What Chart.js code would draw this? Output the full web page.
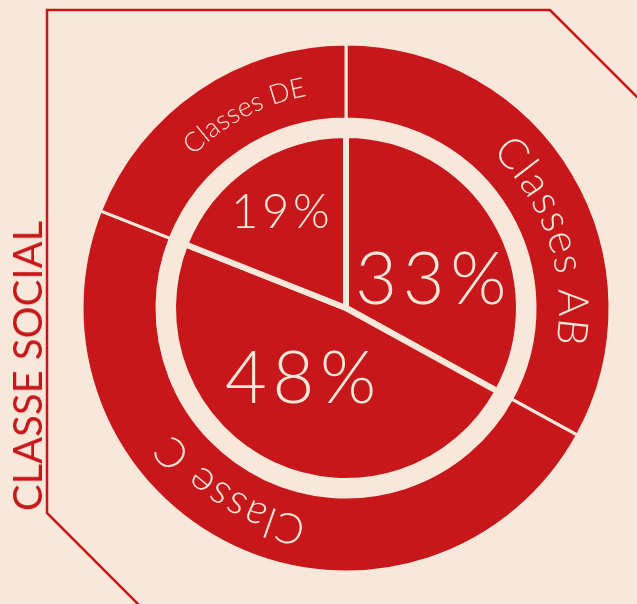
<!DOCTYPE html>
<html lang="pt">
<head>
<meta charset="UTF-8">
<title>Classe social</title>
<script src="https://cdn.jsdelivr.net/npm/chart.js"></script>
<style>
    body {
        margin: 0;
        background-color: #f9e8da;
    }
    .wrap {
        position: relative;
        width: 637px;
        height: 604px;
        overflow: hidden;
    }
    .wrap canvas, .wrap svg {
        position: absolute;
        left: 0;
        top: 0;
    }
    .title {
        position: absolute;
        left: 27px;
        top: 366px;
        transform: translate(-50%, -50%) rotate(-90deg);
        font-family: 'Lato', sans-serif;
        font-size: 40px;
        line-height: 1;
        color: #c8171b;
        white-space: nowrap;
    }
</style>
</head>
<body>
<div class="wrap">
    <svg width="637" height="604">
        <polyline points="640,100 550,10 47,10 47,513 140,606" fill="none" stroke="#c8171b" stroke-width="2.5"/>
    </svg>
    <canvas id="ring" width="637" height="604"></canvas>
    <canvas id="pie" width="637" height="604"></canvas>
    <div class="title">CLASSE SOCIAL</div>
</div>
<script>
    const RED = '#c8171b';
    const CREAM = '#f9e8da';

    const classes = ['Classes AB', 'Classe C', 'Classes DE'];
    const shares = [33, 48, 19];
    const pctLabels = ['33%', '48%', '19%'];

    // text written along the outer ring, clockwise, tops outward
    const curvedLabels = {
        id: 'curvedLabels',
        afterDatasetsDraw(chart, args, opts) {
            const ctx = chart.ctx;
            chart.getDatasetMeta(0).data.forEach((arc, i) => {
                const st = opts.items[i];
                const p = arc.getProps(['x', 'y', 'startAngle', 'endAngle', 'innerRadius', 'outerRadius']);
                const mid = (p.startAngle + p.endAngle) / 2 + st.shift * Math.PI / 180;
                const r = (p.innerRadius + p.outerRadius) / 2 + st.dr;
                const chars = [...chart.data.labels[i]];
                ctx.save();
                ctx.font = '300 ' + st.size + 'px Lato, sans-serif';
                ctx.fillStyle = CREAM;
                ctx.textAlign = 'center';
                ctx.textBaseline = 'middle';
                const widths = chars.map(c => ctx.measureText(c).width);
                const natural = widths.reduce((a, b) => a + b, 0);
                const span = st.span * Math.PI / 180 * r;
                const gap = (span - natural) / (chars.length - 1);
                let pos = -span / 2;
                chars.forEach((c, k) => {
                    const a = mid + (pos + widths[k] / 2) / r;
                    ctx.save();
                    ctx.translate(p.x + r * Math.cos(a), p.y + r * Math.sin(a));
                    ctx.rotate(a + Math.PI / 2);
                    ctx.fillText(c, 0, 0);
                    ctx.restore();
                    pos += widths[k] + gap;
                });
                ctx.restore();
            });
        }
    };

    const pieLabels = {
        id: 'pieLabels',
        afterDatasetsDraw(chart, args, opts) {
            const ctx = chart.ctx;
            chart.getDatasetMeta(0).data.forEach((arc, i) => {
                const st = opts.items[i];
                const p = arc.getProps(['x', 'y', 'startAngle', 'endAngle']);
                const a = (p.startAngle + p.endAngle) / 2 + st.shift * Math.PI / 180;
                const ls = st.size * 0.08;
                ctx.save();
                ctx.font = '300 ' + st.size + 'px Lato, sans-serif';
                ctx.letterSpacing = ls + 'px';
                ctx.fillStyle = CREAM;
                ctx.textAlign = 'center';
                ctx.textBaseline = 'alphabetic';
                ctx.fillText(pctLabels[i], p.x + st.dist * Math.cos(a) + ls / 2, p.y + st.dist * Math.sin(a) + st.size * 0.36);
                ctx.restore();
            });
        }
    };

    new Chart(document.getElementById('ring'), {
        type: 'doughnut',
        data: {
            labels: classes,
            datasets: [{
                data: shares,
                backgroundColor: RED,
                borderColor: CREAM,
                borderWidth: 3
            }]
        },
        options: {
            responsive: false,
            animation: false,
            radius: 264,
            cutout: '71.6%',
            layout: { padding: { left: 55, top: 12 } },
            plugins: {
                legend: { display: false },
                tooltip: { enabled: false },
                curvedLabels: {
                    items: [
                        { size: 42, span: 56, shift: 12, dr: 0 },
                        { size: 42, span: 43, shift: 7, dr: 0 },
                        { size: 27, span: 34.5, shift: 6.5, dr: -2 }
                    ]
                }
            }
        },
        plugins: [curvedLabels]
    });

    new Chart(document.getElementById('pie'), {
        type: 'pie',
        data: {
            labels: classes,
            datasets: [{
                data: shares,
                backgroundColor: RED,
                borderColor: CREAM,
                borderWidth: 6
            }]
        },
        options: {
            responsive: false,
            animation: false,
            radius: 173,
            layout: { padding: { left: 55, top: 12 } },
            plugins: {
                legend: { display: false },
                tooltip: { enabled: false },
                pieLabels: {
                    items: [
                        { size: 72, dist: 90, shift: 11 },
                        { size: 72, dist: 83, shift: 8 },
                        { size: 47, dist: 117, shift: 0 }
                    ]
                }
            }
        },
        plugins: [pieLabels]
    });
</script>
</body>
</html>
